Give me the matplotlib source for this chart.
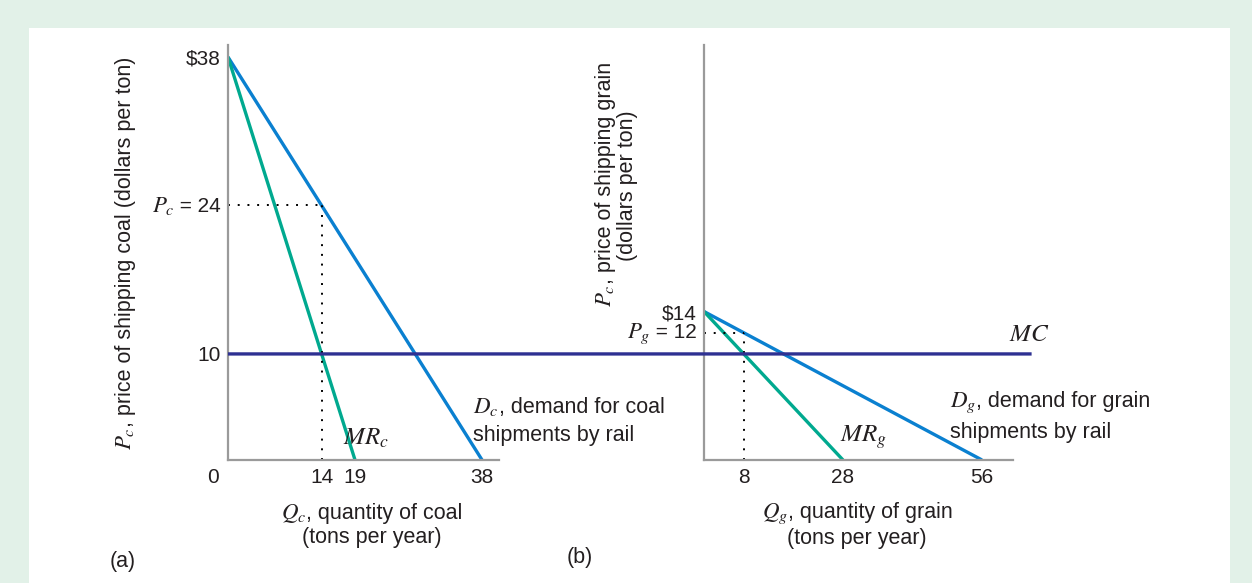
import matplotlib.pyplot as plt
from matplotlib.patches import Rectangle, ConnectionPatch
from matplotlib.offsetbox import TextArea, HPacker, VPacker, AnnotationBbox

plt.rcParams['font.family'] = ['Liberation Sans', 'DejaVu Sans']
plt.rcParams['mathtext.fontset'] = 'stix'
plt.rcParams['font.size'] = 15.5

# (a) coal shipments
coal_demand_q = [0, 38]
coal_demand_p = [38, 0]
coal_mr_q = [0, 19]
coal_mr_p = [38, 0]
coal_q_star, coal_p_star = 14, 24
coal_xticks = [14, 19, 38]
coal_yticks = [10, 38]
coal_yticklabels = ['10', '$38']

# (b) grain shipments
grain_demand_q = [0, 56]
grain_demand_p = [14, 0]
grain_mr_q = [0, 28]
grain_mr_p = [14, 0]
grain_q_star, grain_p_star = 8, 12
grain_xticks = [8, 28, 56]
grain_yticks = [14]
grain_yticklabels = ['$14']

# marginal cost, common to both markets
mc = 10
mc_end = 66  # MC line ends here on the grain axis

blue = '#0a80d0'
green = '#00a98f'
navy = '#2e3192'
axis_gray = '#9a9a9a'
text_col = '#231f20'

W, H = 1252, 583
fig = plt.figure(figsize=(W / 100, H / 100), dpi=100)
fig.patch.set_facecolor('#e2f1e8')
fig.add_artist(Rectangle((29 / W, 0), 1201 / W, 1 - 28 / H,
                         transform=fig.transFigure, facecolor='white',
                         edgecolor='none', zorder=-10))


def fpx(x, y):
    # reference pixel position -> figure fraction
    return x / W, 1 - y / H


def math_line(math, rest, math_size=16.5, size=15.5):
    # italic symbol followed by plain text, sharing one baseline
    return HPacker(children=[TextArea(math, textprops=dict(fontsize=math_size, color=text_col)),
                             TextArea(rest, textprops=dict(fontsize=size, color=text_col))],
                   align='baseline', pad=0, sep=0)


def two_lines(math, rest, second, align, sep):
    return VPacker(children=[math_line(math, rest),
                             TextArea(second, textprops=dict(color=text_col))],
                   align=align, pad=0, sep=sep)


def place(ax, box, xy, align, coords='axes fraction', offset=(0, 0)):
    ab = AnnotationBbox(box, xy, xycoords=coords, xybox=offset, boxcoords='offset points',
                        box_alignment=align, frameon=False, pad=0, annotation_clip=False)
    ax.add_artist(ab)


def rotated_label(x, y, math, rest):
    # vertical label, math part below the split point, rest above it
    fig.text(*fpx(x, y), math, rotation=90, rotation_mode='anchor', ha='right',
             va='baseline', fontsize=16.5, color=text_col)
    fig.text(*fpx(x, y), rest, rotation=90, rotation_mode='anchor', ha='left',
             va='baseline', color=text_col)


ax1 = fig.add_axes([0.1821, 0.2110, 0.2165, 0.7118])
ax2 = fig.add_axes([0.5623, 0.2110, 0.2468, 0.7118])

for ax in (ax1, ax2):
    ax.set_facecolor('none')
    ax.spines['top'].set_visible(False)
    ax.spines['right'].set_visible(False)
    for s in ('left', 'bottom'):
        ax.spines[s].set_color(axis_gray)
        ax.spines[s].set_linewidth(1.6)
    ax.tick_params(length=0, labelsize=15, labelcolor=text_col)
    ax.tick_params(axis='x', pad=6)
    ax.tick_params(axis='y', pad=5)

# ---- panel (a) ----
ax1.set_xlim(0, 40.54)
ax1.set_ylim(0, 39.13)
ax1.plot(coal_demand_q, coal_demand_p, color=blue, lw=2.4, solid_capstyle='butt')
ax1.plot(coal_mr_q, coal_mr_p, color=green, lw=2.4, solid_capstyle='butt')
ax1.plot([0, coal_q_star], [coal_p_star, coal_p_star], color='black', lw=1.4, ls=(0, (1, 4)))
ax1.plot([coal_q_star, coal_q_star], [0, coal_p_star], color='black', lw=1.4, ls=(0, (1, 4)))
ax1.set_xticks(coal_xticks)
ax1.set_xticklabels([str(v) for v in coal_xticks])
ax1.set_yticks(coal_yticks)
ax1.set_yticklabels(coal_yticklabels)
ax1.annotate('0', xy=(0, 0), xytext=(-11, -6), textcoords='offset points',
             ha='center', va='top', color=text_col, fontsize=15)
place(ax1, math_line(r'$P_c$', f' = {coal_p_star}', 16.5, 15), (0, coal_p_star),
      (1, 0.5), coords='data', offset=(-5, 0))

place(ax1, two_lines(r'$Q_c$', ', quantity of coal', '(tons per year)', 'center', 1.5),
      (0.531, -0.156), (0.5, 0.5))
ax1.text(0.424, 0.053, r'$MR_c$', transform=ax1.transAxes, ha='left', va='center',
         color=text_col, fontsize=18)
place(ax1, two_lines(r'$D_c$', ', demand for coal', 'shipments by rail', 'left', 5),
      (0.904, 0.096), (0, 0.5))

# ---- panel (b) ----
ax2.set_xlim(0, 62.25)
ax2.set_ylim(0, 39.13)
ax2.plot(grain_demand_q, grain_demand_p, color=blue, lw=2.4, solid_capstyle='butt')
ax2.plot(grain_mr_q, grain_mr_p, color=green, lw=2.4, solid_capstyle='butt')
ax2.plot([0, grain_q_star], [grain_p_star, grain_p_star], color='black', lw=1.4, ls=(0, (1, 4)))
ax2.plot([grain_q_star, grain_q_star], [0, grain_p_star], color='black', lw=1.4, ls=(0, (1, 4)))
ax2.set_xticks(grain_xticks)
ax2.set_xticklabels([str(v) for v in grain_xticks])
ax2.set_yticks(grain_yticks)
ax2.set_yticklabels(grain_yticklabels)
place(ax2, math_line(r'$P_g$', f' = {grain_p_star}', 16.5, 15), (0, grain_p_star),
      (1, 0.5), coords='data', offset=(-5, 0))

place(ax2, two_lines(r'$Q_g$', ', quantity of grain', '(tons per year)', 'center', 1.5),
      (0.495, -0.156), (0.5, 0.5))
ax2.text(0.44, 0.055, r'$MR_g$', transform=ax2.transAxes, ha='left', va='center',
         color=text_col, fontsize=18)
place(ax2, two_lines(r'$D_g$', ', demand for grain', 'shipments by rail', 'left', 5),
      (0.796, 0.106), (0, 0.5))

# MC spans both panels
mc_line = ConnectionPatch(xyA=(0, mc), coordsA=ax1.transData,
                          xyB=(mc_end, mc), coordsB=ax2.transData,
                          color=navy, lw=2.4, capstyle='butt', zorder=1)
fig.add_artist(mc_line)
ax2.annotate(r'$MC$', xy=(mc_end, mc), xytext=(-2, 6), textcoords='offset points',
             ha='center', va='bottom', color=text_col, fontsize=18, annotation_clip=False)

# axis titles and panel tags
rotated_label(131, 427, r'$P_c$', ', price of shipping coal (dollars per ton)')
rotated_label(611, 284, r'$P_c$', ', price of shipping grain')
fig.text(*fpx(628, 186), '(dollars per ton)', rotation=90, ha='center', va='center',
         color=text_col)
fig.text(*fpx(123, 562), '(a)', ha='center', va='center', color=text_col)
fig.text(*fpx(580, 557), '(b)', ha='center', va='center', color=text_col)

fig.savefig('out.png', dpi=100)
